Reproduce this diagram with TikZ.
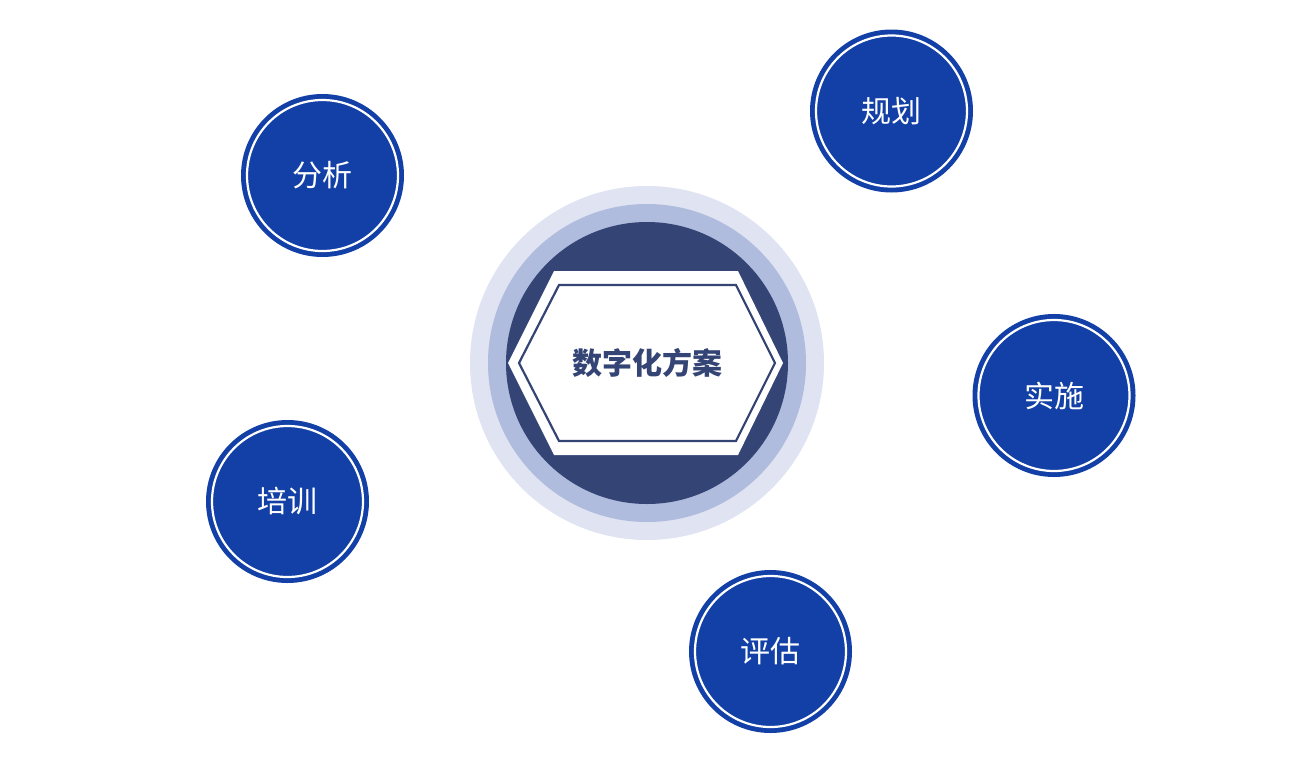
\documentclass[tikz,border=0pt]{standalone}
\usepackage{fontspec}
\newfontfamily\cjk{Noto Sans CJK SC}
\definecolor{cblue}{HTML}{1340A6}
\definecolor{cdark}{HTML}{334475}
\definecolor{cmid}{HTML}{B0BCDD}
\definecolor{clight}{HTML}{DFE3F2}
\tikzset{
  stage/.style={circle, fill=cblue, minimum size=163pt, inner sep=0pt, text=white,
    font=\cjk\fontsize{30}{30}\selectfont},
  ring/.style={draw=white, line width=2.2pt},
}
\begin{document}
\begin{tikzpicture}[x=1pt,y=-1pt]
\useasboundingbox (0,0) rectangle (1296,774);
% center
\fill[clight] (647,363) circle (177);
\fill[cmid] (647,363) circle (159);
\fill[cdark] (647,363) circle (141);
\fill[white] (508,363) -- (554,271) -- (738,271) -- (783,363) -- (738,455) -- (554,455) -- cycle;
\draw[cdark, line width=2.2pt] (519,363) -- (559,285) -- (736,285) -- (775,363) -- (736,441) -- (559,441) -- cycle;
\node (center) at (647,363) {\cjk\bfseries\fontsize{30}{30}\selectfont\textcolor{cdark}{数字化方案}};
% stages
\foreach \n/\x/\y/\t in {fx/322.5/175.5/分析, gh/891.5/111/规划, ss/1054/395.5/实施, pg/770.5/651.5/评估, px/287.5/501.5/培训}{
  \node[stage] (\n) at (\x,\y) {\t};
  \draw[ring] (\n.center) circle (75.5);
}
\end{tikzpicture}
\end{document}
